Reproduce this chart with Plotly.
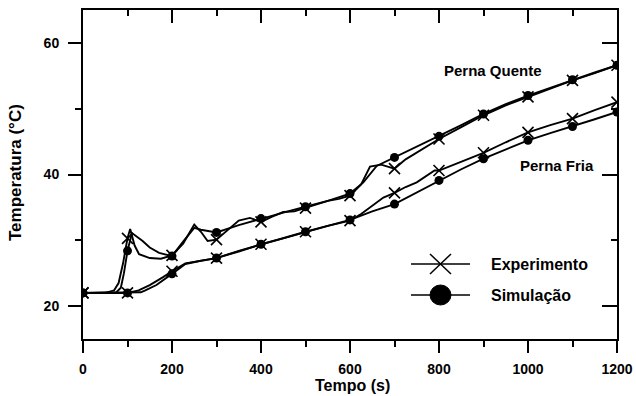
import numpy as np
import plotly.graph_objects as go

# ---- data ----
# Perna Quente - experiment
t_qe = [0, 50, 70, 80, 90, 100, 106, 116, 126, 150, 175, 200, 225, 250, 265, 280, 300, 325, 350, 375, 400,
        425, 450, 475, 500, 525, 550, 575, 600, 625, 645, 670, 700, 725, 750, 800, 850, 900, 950, 1000,
        1050, 1100, 1150, 1200]
T_qe = [22.0, 22.0, 22.4, 23.5, 26.5, 30.3, 31.7, 29.2, 27.9, 27.3, 27.2, 27.7, 29.5, 32.4, 31.3, 29.9, 30.1,
        31.5, 33.0, 33.4, 32.8, 33.6, 34.3, 34.4, 34.9, 35.4, 36.0, 36.3, 36.8, 38.5, 41.2, 41.5, 40.9, 42.3,
        43.3, 45.4, 47.2, 49.0, 50.5, 51.8, 53.0, 54.3, 55.4, 56.6]
# Perna Quente - simulation
t_qs = [0, 50, 75, 85, 92, 100, 110, 134, 150, 171, 200, 225, 250, 265, 300, 350, 400, 450, 500, 550, 600,
        630, 660, 700, 750, 800, 850, 900, 950, 1000, 1050, 1100, 1150, 1200]
T_qs = [22.0, 22.0, 22.1, 22.8, 25.0, 28.4, 31.1, 29.9, 28.9, 28.1, 27.6, 29.8, 31.9, 31.6, 31.2, 32.3, 33.3,
        34.2, 35.1, 36.0, 37.1, 38.8, 41.3, 42.6, 44.2, 45.8, 47.5, 49.2, 50.7, 52.0, 53.2, 54.4, 55.5, 56.6]
# Perna Fria - experiment
t_fe = [0, 100, 125, 150, 180, 200, 230, 260, 300, 350, 400, 450, 500, 550, 600, 625, 650, 675, 700, 725,
        750, 790, 800, 850, 900, 950, 1000, 1050, 1100, 1150, 1200]
T_fe = [22.0, 22.0, 22.4, 23.2, 24.4, 25.3, 26.5, 26.8, 27.3, 28.4, 29.4, 30.3, 31.3, 32.2, 33.0, 34.0, 35.3,
        36.5, 37.2, 38.1, 38.8, 40.6, 40.6, 42.0, 43.3, 44.9, 46.4, 47.5, 48.5, 49.8, 51.0]
# Perna Fria - simulation
t_fs = [0, 100, 130, 140, 165, 200, 230, 265, 300, 350, 400, 450, 500, 550, 600, 650, 700, 750, 800, 850,
        900, 950, 1000, 1050, 1100, 1150, 1200]
T_fs = [22.0, 22.0, 22.1, 22.4, 23.2, 24.9, 26.4, 26.9, 27.3, 28.3, 29.4, 30.3, 31.3, 32.2, 33.1, 34.4, 35.5,
        37.3, 39.1, 40.8, 42.4, 43.8, 45.2, 46.3, 47.3, 48.4, 49.5]

x_ticks = [0, 200, 400, 600, 800, 1000, 1200]
y_ticks = [20, 40, 60]
legend_labels = ["Experimento", "Simulação"]
curve_labels = ["Perna Quente", "Perna Fria"]
x_title = "Tempo (s)"
y_title = "Temperatura (°C)"

FONT = "Liberation Sans"
BLACK = "#000000"

fig = go.Figure()


def add_curve(t, T, symbol, msize, mline):
    t = np.asarray(t, dtype=float)
    T = np.asarray(T, dtype=float)
    fig.add_trace(go.Scatter(x=t, y=T, mode="lines",
                             line=dict(color=BLACK, width=1.9), hoverinfo="skip", showlegend=False))
    sel = (t % 100) == 0
    fig.add_trace(go.Scatter(x=t[sel], y=T[sel], mode="markers",
                             marker=dict(symbol=symbol, size=msize, color=BLACK,
                                         line=dict(color=BLACK, width=mline)),
                             hoverinfo="skip", showlegend=False))


add_curve(t_qe, T_qe, "x-thin", 11, 1.6)
add_curve(t_qs, T_qs, "circle", 9, 0)
add_curve(t_fe, T_fe, "x-thin", 11, 1.6)
add_curve(t_fs, T_fs, "circle", 9, 0)

# invisible copy to create the mirrored top/right axes
fig.add_trace(go.Scatter(x=t_qs, y=T_qs, xaxis="x2", yaxis="y2", mode="lines",
                         line=dict(width=0), opacity=0, hoverinfo="skip", showlegend=False))

tickfont = dict(family=FONT, size=14, color=BLACK, weight="bold")
common = dict(showgrid=False, zeroline=False, showline=True, linecolor=BLACK, linewidth=2,
              tickcolor=BLACK, tickwidth=2, automargin=False)

fig.update_layout(
    width=636, height=396, autosize=False,
    margin=dict(l=83, r=19, t=10, b=57),
    paper_bgcolor="white", plot_bgcolor="white",
    showlegend=False,
    xaxis=dict(range=[0, 1200], tickvals=x_ticks, ticks="outside", ticklen=12,
               tickfont=tickfont, ticklabelstandoff=4, ticklabeloverflow="allow",
               minor=dict(ticks="outside", ticklen=6, dtick=100, tick0=0, tickcolor=BLACK, tickwidth=2),
               **common),
    yaxis=dict(range=[15, 65], tickvals=y_ticks, ticks="outside", ticklen=13,
               tickfont=tickfont, ticklabelstandoff=6,
               minor=dict(ticks="outside", ticklen=6, dtick=10, tick0=0, tickcolor=BLACK, tickwidth=2),
               **common),
    xaxis2=dict(range=[0, 1200], overlaying="x", side="top", anchor="y", tickvals=x_ticks,
                ticks="inside", ticklen=13, showticklabels=False,
                minor=dict(ticks="inside", ticklen=6, dtick=100, tick0=0, tickcolor=BLACK, tickwidth=2),
                **common),
    yaxis2=dict(range=[15, 65], overlaying="y", side="right", anchor="x", tickvals=y_ticks,
                ticks="inside", ticklen=15, showticklabels=False,
                minor=dict(ticks="inside", ticklen=6, dtick=10, tick0=0, tickcolor=BLACK, tickwidth=2),
                **common),
)

# plot-area pixel geometry -> paper coords
PX0, PX1, PY0, PY1 = 83, 617, 10, 339


def px(x):
    return (x - PX0) / (PX1 - PX0)


def py(y):
    return (PY1 - y) / (PY1 - PY0)


def f(size):
    return dict(family=FONT, size=size, color=BLACK, weight="bold")


ann = [
    dict(text=curve_labels[0], x=px(493), y=py(70), xanchor="center", yanchor="middle", font=f(15)),
    dict(text=curve_labels[1], x=px(557), y=py(166), xanchor="center", yanchor="middle", font=f(15)),
    dict(text=legend_labels[0], x=px(489), y=py(264), xanchor="left", yanchor="middle", font=f(16)),
    dict(text=legend_labels[1], x=px(489), y=py(295), xanchor="left", yanchor="middle", font=f(16)),
    dict(text=x_title, x=px(352), y=py(385), xanchor="center", yanchor="middle", font=f(16)),
    dict(text=y_title, x=px(15), y=py(173), xanchor="center", yanchor="middle", textangle=-90, font=f(17)),
]
for a in ann:
    a.update(xref="paper", yref="paper", showarrow=False)
fig.update_layout(annotations=ann)

# legend keys
shapes = [
    dict(type="line", x0=px(411), x1=px(470), y0=py(264), y1=py(264), line=dict(color=BLACK, width=1.5)),
    dict(type="line", x0=px(430), x1=px(451), y0=py(254), y1=py(274), line=dict(color=BLACK, width=1.5)),
    dict(type="line", x0=px(430), x1=px(451), y0=py(274), y1=py(254), line=dict(color=BLACK, width=1.5)),
    dict(type="line", x0=px(411), x1=px(470), y0=py(295), y1=py(295), line=dict(color=BLACK, width=1.5)),
    dict(type="circle", x0=px(430), x1=px(451), y0=py(285), y1=py(305),
         fillcolor=BLACK, line=dict(color=BLACK, width=1)),
]
for s in shapes:
    s.update(xref="paper", yref="paper")
fig.update_layout(shapes=shapes)

fig.write_html("out.html", config={"displayModeBar": False},
               post_script="document.body.style.margin='0px';")
